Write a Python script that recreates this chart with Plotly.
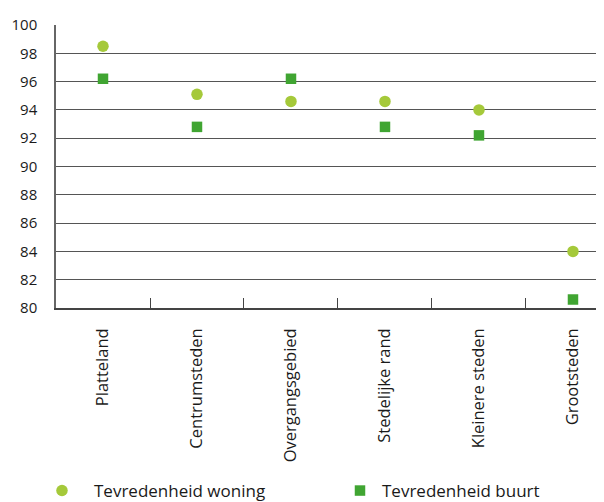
import plotly.graph_objects as go

categories = ["Platteland", "Centrumsteden", "Overgangsgebied", "Stedelijke rand", "Kleinere steden", "Grootsteden"]
woning = [98.5, 95.1, 94.6, 94.6, 94.0, 84.0]
buurt = [96.2, 92.8, 96.2, 92.8, 92.2, 80.6]
y_ticks = [80, 82, 84, 86, 88, 90, 92, 94, 96, 98, 100]

# the page body has an 8px margin, so the figure is offset by 8px
W, H = 596, 494
ml, mr, mt, mb = 48, 0, 17, 194
pw = W - ml - mr
ph = H - mt - mb

fig = go.Figure()
fig.add_trace(go.Scatter(
    x=categories, y=woning, mode="markers", name="Tevredenheid woning",
    marker=dict(symbol="circle", size=11.5, color="#a5c93a"), legend="legend",
))
fig.add_trace(go.Scatter(
    x=categories, y=buurt, mode="markers", name="Tevredenheid buurt",
    marker=dict(symbol="square", size=10.5, color="#40a532"), legend="legend2",
))

leg_y = (300 - 483) / ph
leg_font = dict(size=17, color="#1a1a1a")

fig.update_layout(
    width=W, height=H,
    margin=dict(l=ml, r=mr, t=mt, b=mb, pad=0, autoexpand=False),
    paper_bgcolor="white", plot_bgcolor="white",
    font=dict(family="Open Sans, Liberation Sans, sans-serif", size=14, color="#1a1a1a"),
    showlegend=True,
    legend=dict(orientation="h", xanchor="left", yanchor="middle", y=leg_y,
                x=(22 - ml) / pw, itemwidth=54, font=leg_font,
                bgcolor="rgba(0,0,0,0)"),
    legend2=dict(orientation="h", xanchor="left", yanchor="middle", y=leg_y,
                 x=(330 - ml) / pw, itemwidth=34, font=leg_font,
                 bgcolor="rgba(0,0,0,0)"),
    xaxis=dict(
        type="category", range=[-0.5, 5.33], automargin=False,
        showline=True, linecolor="#444", linewidth=1.5,
        showgrid=False, ticks="inside", tickson="boundaries", ticklen=10,
        tickcolor="#444", tickwidth=1, tickangle=-90,
        ticklabelstandoff=12,
        tickfont=dict(size=16.5),
    ),
    yaxis=dict(
        range=[80, 100], tickvals=y_ticks, ticktext=[str(v) for v in y_ticks],
        automargin=False,
        showline=True, linecolor="#666", linewidth=1.5,
        showgrid=True, gridcolor="#555", gridwidth=1,
        zeroline=False, ticks="outside", ticklen=14, tickcolor="rgba(0,0,0,0)",
        tickfont=dict(size=15),
    ),
)

fig.write_html("out.html")
